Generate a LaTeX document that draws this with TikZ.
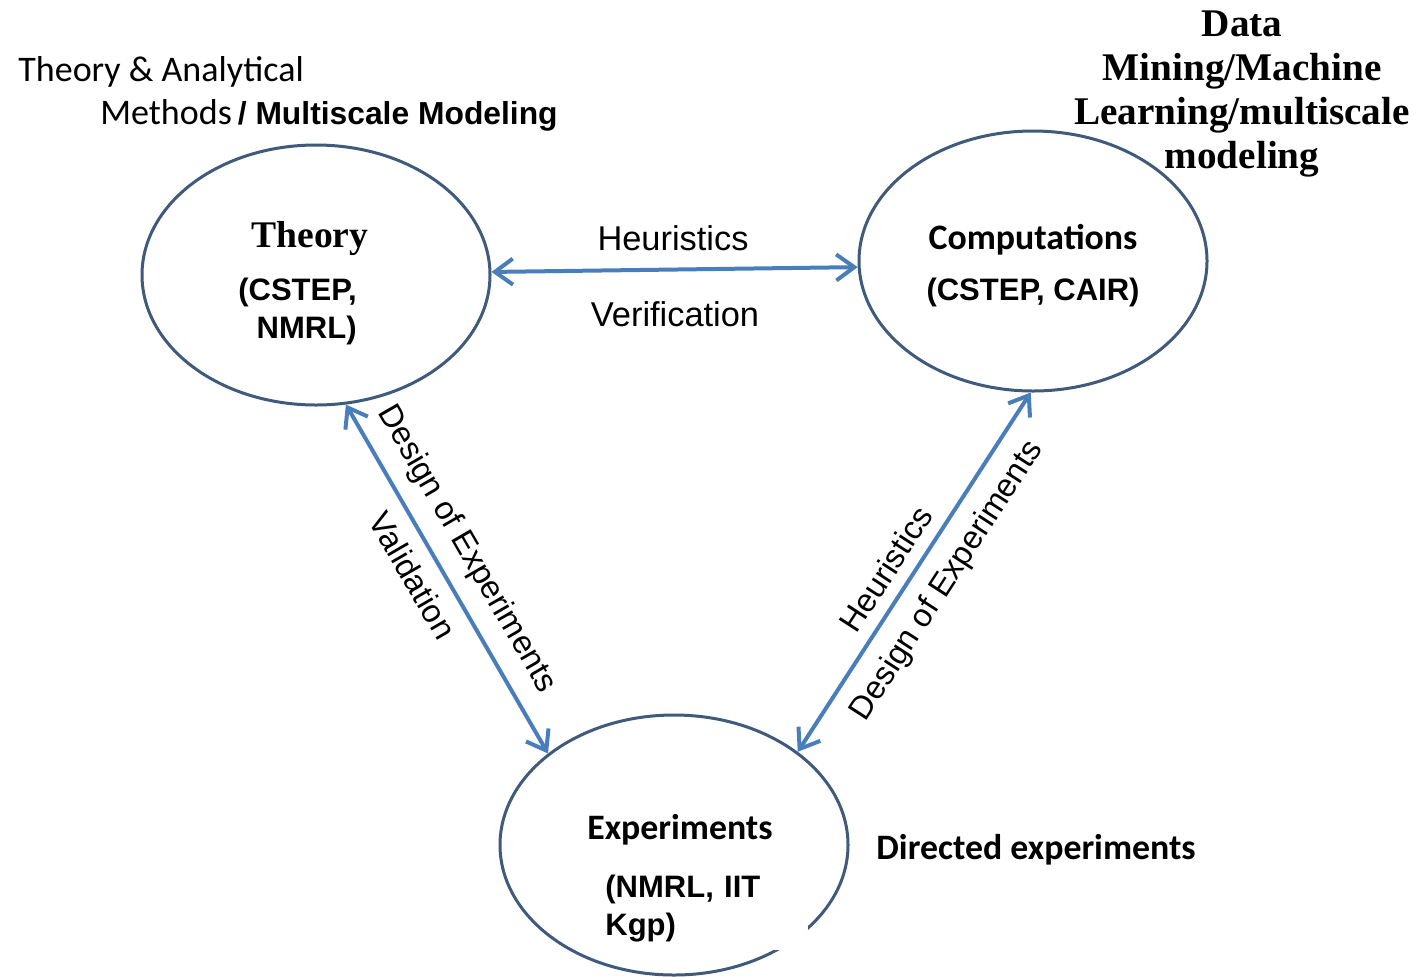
\documentclass[tikz,border=0pt]{standalone}
\usepackage{fontspec}
\setmainfont{Liberation Sans}
\newfontfamily\calfont{Carlito}
\newfontfamily\cambfont{Liberation Serif}
\usetikzlibrary{shapes.geometric,arrows.meta}
\definecolor{ringblue}{HTML}{3F5A7A}
\definecolor{linkblue}{HTML}{4A7EBB}

\begin{document}
\begin{tikzpicture}[x=0.5pt,y=-0.5pt,
  bubble/.style={draw=ringblue, line width=1.5pt, ellipse, minimum width=174pt, minimum height=130pt, inner sep=0pt},
  link/.style={draw=linkblue, line width=2pt, >={Straight Barb[length=9pt,width=13pt]}, <->},
  calib/.style={font=\calfont\fontsize{18}{22}\selectfont, inner sep=0pt},
  calbf/.style={font=\calfont\bfseries\fontsize{17.9}{22}\selectfont, inner sep=0pt},
  inst/.style={font=\bfseries\fontsize{15.5}{19}\selectfont, inner sep=0pt},
  flow/.style={font=\fontsize{16.2}{19}\selectfont},
  side/.style={font=\fontsize{17.2}{20}\selectfont, inner sep=0pt}]
\useasboundingbox[fill=white] (0,0) rectangle (1418,976);

\node[bubble] (theory) at (316,275) {};
\node[bubble] (comp) at (1033,261) {};
\node[bubble] (expt) at (674,845) {};

\node[calib, anchor=west] (tanal) at (18,72) {Theory \& Analytical};
\node[anchor=west, inner sep=0pt] (methods) at (100,115) {{\calfont\fontsize{18}{22}\selectfont Methods}\hspace{3pt}{\bfseries\fontsize{15.9}{19}\selectfont/ Multiscale Modeling}};
\node[font=\cambfont\bfseries\fontsize{19.6}{22}\selectfont, align=center, inner sep=0pt] (datamin) at (1242,94) {Data\\ Mining/Machine\\ Learning/multiscale\\ modeling};

\node[font=\cambfont\bfseries\fontsize{18.8}{22}\selectfont, inner sep=0pt] (theolab) at (310,239) {Theory};
\node[inst, align=right, anchor=east] (theoinst) at (357,311) {(CSTEP,\\ NMRL)};
\node[calbf] (complab) at (1033,240) {Computations};
\node[inst] (compinst) at (1033,292) {(CSTEP, CAIR)};
\node[calbf] (exptlab) at (680,830) {Experiments};
\node[inst, fill=white, anchor=north west, inner xsep=11pt, inner ysep=3pt, minimum height=41.5pt, text width=90.5pt, align=left] (exptinst) at (583,867) {(NMRL, IIT\\ Kgp)};
\node[calbf, anchor=west] (directed) at (876,850) {Directed experiments};

\node[side] (heurtop) at (673,238) {Heuristics};
\node[side] (verif) at (675,314) {Verification};

\draw[link] (theory.1) -- (comp.182);
\draw[link] (theory.-77) -- (expt.144)
  node[flow, sloped, pos=0.46, above=4pt] (doeleft) {Design of Experiments}
  node[flow, sloped, pos=0.45, below=3.5pt] (valid) {Validation};
\draw[link] (expt.37) -- (comp.-91)
  node[flow, sloped, pos=0.47, above=2.5pt] (heurright) {Heuristics}
  node[flow, sloped, pos=0.525, below=4.4pt] (doeright) {Design of Experiments};
\end{tikzpicture}
\end{document}
